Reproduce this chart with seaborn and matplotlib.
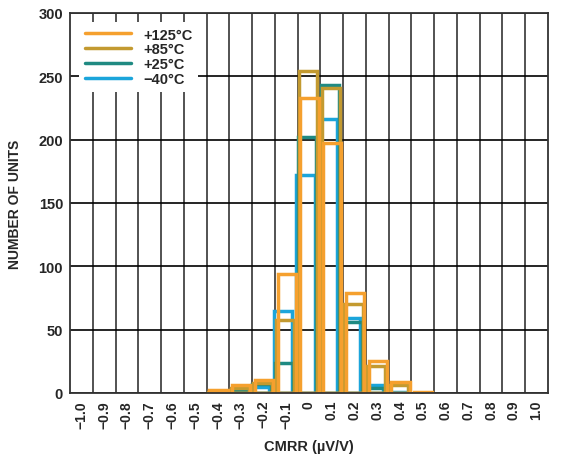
import numpy as np
import pandas as pd
import matplotlib
matplotlib.use("Agg")
import matplotlib.pyplot as plt
from matplotlib.lines import Line2D
import seaborn as sns

# histogram bins (bin centers, µV/V)
bins = [-0.4, -0.3, -0.2, -0.1, 0.0, 0.1, 0.2, 0.3, 0.4, 0.5]
temps = ["+125°C", "+85°C", "+25°C", "\u221240°C"]
counts_125 = [2, 6, 10, 94, 233, 197, 79, 25, 9, 1]
counts_85 = [1, 4, 8, 58, 254, 241, 70, 21, 6, 0]
counts_25 = [0, 2, 7, 24, 202, 243, 56, 4, 0, 0]
counts_m40 = [0, 1, 5, 65, 172, 216, 59, 6, 1, 0]
tick_vals = [round(-1.0 + 0.1 * i, 1) for i in range(21)]

colors = {"+125°C": "#F5A02E", "+85°C": "#C39A30", "+25°C": "#1F8A82", "\u221240°C": "#1BA5DB"}
offsets = {"+125°C": 0.002, "+85°C": -0.004, "+25°C": -0.009, "\u221240°C": -0.015}

rows = []
for t, vals in zip(temps, [counts_125, counts_85, counts_25, counts_m40]):
    for b, v in zip(bins, vals):
        rows.append({"temp": t, "cmrr": b, "units": v})
df = pd.DataFrame(rows)

sns.set_style("white")
plt.rcParams["font.family"] = ["Liberation Sans", "DejaVu Sans"]
plt.rcParams["font.weight"] = "bold"

fig = plt.figure(figsize=(5.62, 4.6), dpi=100)
ax = fig.add_axes([0.1246, 0.1435, 0.8504, 0.8261])

# draw coldest first so +125 sits on top
for t in temps[::-1]:
    sub = df[(df.temp == t) & (df.units > 0)].copy()
    sub["x"] = sub["cmrr"] + offsets[t]
    sns.barplot(data=sub, x="x", y="units", native_scale=True, fill=False,
                color=colors[t], linewidth=2.5, width=0.8, errorbar=None, ax=ax)

ax.set_xlim(-1.05, 1.05)
ax.set_ylim(0, 300)
ax.set_xticks(tick_vals)
ax.set_xticklabels([("0" if v == 0 else f"{v:.1f}".replace("-", "\u2212")) for v in tick_vals],
                   rotation=90, fontsize=10, fontweight="bold")
ax.set_xticks(np.arange(-0.95, 1.0, 0.1), minor=True)
ax.set_yticks(range(0, 301, 50))
ax.set_yticklabels([str(v) for v in range(0, 301, 50)], fontsize=10.5, fontweight="bold")
ax.grid(False)
ax.grid(True, axis="x", which="minor", color="#444444", linewidth=1.3)
ax.grid(True, axis="y", which="major", color="black", linewidth=1.2)
ax.set_axisbelow(True)
ax.tick_params(which="both", length=0, pad=5)
for s in ax.spines.values():
    s.set_color("#333333")
    s.set_linewidth(1.3)

ax.set_xlabel("CMRR (µV/V)", fontsize=10.5, fontweight="bold", labelpad=8)
ax.set_ylabel("NUMBER OF UNITS", fontsize=10, fontweight="bold", labelpad=12)

handles = [Line2D([0], [0], color=colors[t], linewidth=2.5) for t in temps]
ax.legend(handles, temps, loc="upper left", frameon=True, facecolor="white", edgecolor="none",
          framealpha=1, handlelength=3.2, handletextpad=0.8, labelspacing=0.05,
          borderaxespad=0.6, prop={"weight": "bold", "size": 10.5})

plt.savefig("out.png", dpi=100)
